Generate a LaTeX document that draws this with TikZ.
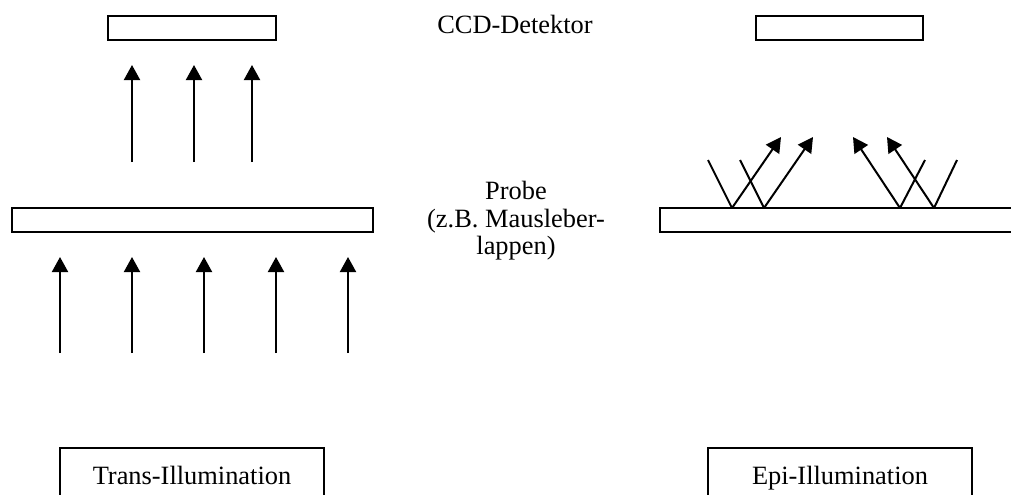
\documentclass[tikz,border=0pt]{standalone}
\usepackage{fontspec}
\setmainfont{Liberation Serif}
\usetikzlibrary{arrows.meta}
\tikzset{
  plate/.style={draw=black, line width=1pt},
  ray/.style={line width=1pt, -{Triangle[width=8pt,length=7.5pt]}},
  beam/.style={line width=1pt},
  lbl/.style={font=\fontsize{13.2pt}{13.5pt}\selectfont, inner sep=0pt, anchor=base}
}
\begin{document}
\begin{tikzpicture}[x=0.5pt,y=-0.5pt]
\useasboundingbox (0,0) rectangle (1011,494);
\clip (0,0) rectangle (1011,494);
% Detector plates
\draw[plate] (108,16) rectangle (276,40);
\draw[plate] (756,16) rectangle (923,40);
\node[lbl] (ccd) at (515,33) {CCD-Detektor};
% Sample plates
\draw[plate] (12,208) rectangle (373,232);
\draw[plate] (1020,208) -- (660,208) -- (660,232) -- (1020,232);
\node[lbl] (probe) at (516,199) {Probe};
\node[lbl] (probeb) at (516,227) {(z.B. Mausleber-};
\node[lbl] (probec) at (516,254) {lappen)};
% Trans: light through the sample
\foreach \x in {60,132,204,276,348}
  \draw[ray] (\x,353) -- (\x,257);
\foreach \x in {132,194,252}
  \draw[ray] (\x,162) -- (\x,65);
% Epi: light reflected from the surface
\draw[beam] (708,160) -- (732,208);
\draw[beam] (740,160) -- (764,208);
\draw[beam] (925,160) -- (900,208);
\draw[beam] (957,160) -- (934,208);
\draw[ray] (732,208) -- (781,137);
\draw[ray] (764,208) -- (813,137);
\draw[ray] (900,208) -- (853,137);
\draw[ray] (934,208) -- (887,137);
% Mode labels
\draw[plate] (60,520) -- (60,448) -- (324,448) -- (324,520);
\draw[plate] (708,520) -- (708,448) -- (972,448) -- (972,520);
\node[lbl] (trans) at (192,484) {Trans-Illumination};
\node[lbl] (epi) at (840,484) {Epi-Illumination};
\end{tikzpicture}
\end{document}
